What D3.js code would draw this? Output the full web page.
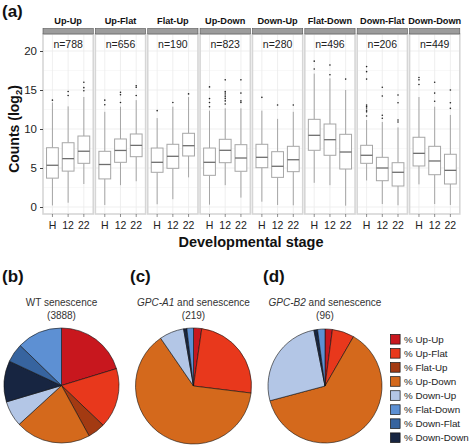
<!DOCTYPE html>
<html><head><meta charset="utf-8">
<script src="https://cdn.jsdelivr.net/npm/d3@7"></script>
<style>body{margin:0;background:#fff}svg{display:block;font-family:"Liberation Sans",Arial,sans-serif}</style>
</head><body><svg id="c" width="472" height="447"></svg>
<script>
const categories = ["Up-Up","Up-Flat","Flat-Up","Up-Down","Down-Up","Flat-Down","Down-Flat","Down-Down"];
const stages = ["H","12","22"];
const nCounts = [788,656,190,823,280,496,206,449];
const yTicks = [0,5,10,15,20];
// [lowerWhisker, q1, median, q3, upperWhisker] per category, per stage
const boxStats = [
  [[0.2,3.7,5.35,7.6,13.4],[0.55,4.6,6.2,8.24,12.9],[2.95,5.6,7.15,9.1,14.1]],
  [[0.26,3.6,5.45,7.14,12.2],[2.8,5.73,7.25,8.72,12.86],[3.3,6.45,7.9,9.36,13.7]],
  [[0.35,4.45,5.73,7.56,11.4],[1.0,4.96,6.5,8.04,12.86],[3.8,6.54,7.86,9.45,14.1]],
  [[0.3,4.06,5.73,7.56,12.35],[2.8,5.68,7.27,8.68,12.65],[1.2,4.58,6.28,7.99,12.65]],
  [[0.68,5.04,6.37,8.04,12.35],[0.26,3.8,5.22,7.09,11.3],[0.22,4.53,6.06,7.78,12.2]],
  [[3.1,7.27,9.19,11.24,17.1],[2.8,6.63,8.63,10.64,16.5],[0.17,4.87,7.05,9.32,15.0]],
  [[3.4,5.6,6.63,7.91,11.15],[0.38,3.37,5.0,6.37,10.9],[0.22,2.69,4.45,5.68,10.2]],
  [[2.9,5.26,6.88,8.94,14.1],[0.38,4.14,5.9,7.78,12.86],[0.26,2.95,4.7,6.76,11.8]]
];
const outliers = [
  [[13.7],[14.8,14.3],[16.0,15.3,14.9]],
  [[13.7,13.1],[14.7,14.4,13.4],[15.55,15.35,14.3]],
  [[12.35],[13.4],[14.5]],
  [[15.4,13.9,13.4,12.86],[16.3,14.8,14.6,14.36,14.14,13.9,13.6,13.2],[16.3,14.6,13.6,13.4]],
  [[14.06],[13.08],[13.08]],
  [[18.7,17.7],[18.2,16.96],[16.4]],
  [[18.0,17.35,16.4,13.08,12.9,12.7,12.4,12.2,11.67],[15.35,14.23,11.76,11.37],[14.36,13.37,11.15,10.9]],
  [[16.6,16.3,15.7],[16.0,14.6,13.55],[15.0,13.37,12.65]]
];
const pieCountsWT = [788,656,190,823,280,496,206,449];
const pieCountsA1 = [5,54,0,139,15,4,0,2];
const pieCountsB2 = [2,6,0,60,25,2,0,1];
const pieDrawOrder = [0,1,2,3,4,7,6,5];
const colors = ["#c8171e","#e8381c","#a33a12","#d4691c","#b3c6e6","#5d90d3","#37649f","#172541"];

const svg = d3.select("#c");
const y = d3.scaleLinear().domain([0,20]).range([207,51]);
const panelX = d3.scaleBand().domain(categories).range([43,459.8]).paddingInner(0.04).paddingOuter(0);
const pw = panelX.bandwidth();

categories.forEach((cat,i)=>{
  const x0 = panelX(cat);
  const g = svg.append("g").attr("transform",`translate(${x0},0)`);
  const x = d3.scalePoint().domain(stages).range([0,pw]).padding(0.6);
  const unit = x.step();
  const minors = [2.5,7.5,12.5,17.5];
  g.selectAll(".mn").data(minors).join("line").attr("x1",0).attr("x2",pw).attr("y1",d=>y(d)).attr("y2",d=>y(d)).attr("stroke","#f4f4f4").attr("stroke-width",0.6);
  g.selectAll(".mj").data(yTicks).join("line").attr("x1",0).attr("x2",pw).attr("y1",d=>y(d)).attr("y2",d=>y(d)).attr("stroke","#ebebeb").attr("stroke-width",0.8);
  g.selectAll(".vg").data(stages).join("line").attr("x1",d=>x(d)).attr("x2",d=>x(d)).attr("y1",34).attr("y2",214).attr("stroke","#ebebeb").attr("stroke-width",0.8);
  stages.forEach((s,j)=>{
    const st = boxStats[i][j], cx = x(s), bw = unit*0.75;
    g.append("line").attr("x1",cx).attr("x2",cx).attr("y1",y(st[0])).attr("y2",y(st[1])).attr("stroke","#a6a6a6").attr("stroke-width",1);
    g.append("line").attr("x1",cx).attr("x2",cx).attr("y1",y(st[3])).attr("y2",y(st[4])).attr("stroke","#a6a6a6").attr("stroke-width",1);
    g.append("rect").attr("x",cx-bw/2).attr("width",bw).attr("y",y(st[3])).attr("height",y(st[1])-y(st[3])).attr("fill","#fff").attr("stroke","#a6a6a6").attr("stroke-width",1);
    g.append("line").attr("x1",cx-bw/2).attr("x2",cx+bw/2).attr("y1",y(st[2])).attr("y2",y(st[2])).attr("stroke","#6e6e6e").attr("stroke-width",1.3);
    g.selectAll(null).data(outliers[i][j]).join("circle").attr("cx",cx).attr("cy",d=>y(d)).attr("r",0.8).attr("fill","#222");
  });
  g.append("rect").attr("x",0).attr("y",34).attr("width",pw).attr("height",180).attr("fill","none").attr("stroke","#d6d6d6").attr("stroke-width",1.6);
  g.append("rect").attr("x",0).attr("y",28.5).attr("width",pw).attr("height",5.5).attr("fill","#9c9c9c").attr("stroke","#555").attr("stroke-width",0.6);
  g.append("text").attr("x",pw/2).attr("y",24).attr("text-anchor","middle").attr("font-size",9.2).attr("font-weight","bold").attr("fill","#111").text(cat);
  g.append("text").attr("x",pw/2).attr("y",48).attr("text-anchor","middle").attr("font-size",10.5).attr("fill","#222").text("n="+nCounts[i]);
  g.selectAll(".xt").data(stages).join("text").attr("x",d=>x(d)).attr("y",229).attr("text-anchor","middle").attr("font-size",10.5).attr("fill","#222").text(d=>d);
  g.selectAll(".xtk").data(stages).join("line").attr("x1",d=>x(d)).attr("x2",d=>x(d)).attr("y1",214).attr("y2",217).attr("stroke","#444").attr("stroke-width",0.6);
});
const yAxis = svg.append("g").attr("transform","translate(43,0)").call(d3.axisLeft(y).tickValues(yTicks).tickSize(3).tickPadding(3));
yAxis.select(".domain").remove();
yAxis.selectAll("text").attr("font-size",11.5).attr("fill","#222").attr("font-family","Liberation Sans, Arial, sans-serif");
yAxis.selectAll("line").attr("stroke","#444");
const yt = svg.append("text").attr("transform","translate(19,129) rotate(-90)").attr("text-anchor","middle").attr("font-size",14).attr("font-weight","bold").attr("fill","#111");
yt.append("tspan").text("Counts (log");
yt.append("tspan").attr("font-size",9.5).attr("dy",3).text("2");
yt.append("tspan").attr("dy",-3).text(")");
svg.append("text").attr("x",251).attr("y",247).attr("text-anchor","middle").attr("font-size",14.5).attr("font-weight","bold").attr("fill","#111").text("Developmental stage");
svg.append("text").attr("x",2).attr("y",17).attr("font-size",17).attr("font-weight","bold").attr("fill","#111").text("(a)");

const pies = [
  {counts:pieCountsWT, cx:61.5, cy:385.5, r:57.5, label:"(b)", lx:2, title:[["WT senescence",false]], sub:"(3888)"},
  {counts:pieCountsA1, cx:193.5, cy:386, r:58, label:"(c)", lx:130, title:[["GPC-A1",true],[" and senescence",false]], sub:"(219)"},
  {counts:pieCountsB2, cx:325, cy:386, r:57, label:"(d)", lx:263, title:[["GPC-B2",true],[" and senescence",false]], sub:"(96)"}
];
const pieGen = d3.pie().sort(null).value(d=>d.v);
pies.forEach(p=>{
  const data = pieDrawOrder.map(k=>({k, v:p.counts[k]}));
  const arc = d3.arc().innerRadius(0).outerRadius(p.r);
  const g = svg.append("g").attr("transform",`translate(${p.cx},${p.cy})`);
  g.selectAll("path").data(pieGen(data).filter(d=>d.data.v>0)).join("path").attr("d",arc).attr("fill",d=>colors[d.data.k]).attr("stroke","#111").attr("stroke-width",0.6);
  svg.append("text").attr("x",p.lx).attr("y",282).attr("font-size",17).attr("font-weight","bold").attr("fill","#111").text(p.label);
  const t = svg.append("text").attr("x",p.cx).attr("y",306).attr("text-anchor","middle").attr("font-size",10).attr("fill","#333");
  p.title.forEach(([s,it])=>t.append("tspan").attr("font-style",it?"italic":"normal").text(s));
  svg.append("text").attr("x",p.cx).attr("y",319).attr("text-anchor","middle").attr("font-size",10).attr("fill","#333").text(p.sub);
});
const ly = d3.scalePoint().domain(categories).range([339.3,437.7]);
const lg = svg.append("g");
categories.forEach((c,i)=>{
  lg.append("rect").attr("x",390.5).attr("y",ly(c)-4.8).attr("width",9.6).attr("height",9.6).attr("fill",colors[i]).attr("stroke","#111").attr("stroke-width",0.7);
  lg.append("text").attr("x",404).attr("y",ly(c)+3.6).attr("font-size",9.8).attr("fill","#222").text("% "+c);
});
</script></body></html>
